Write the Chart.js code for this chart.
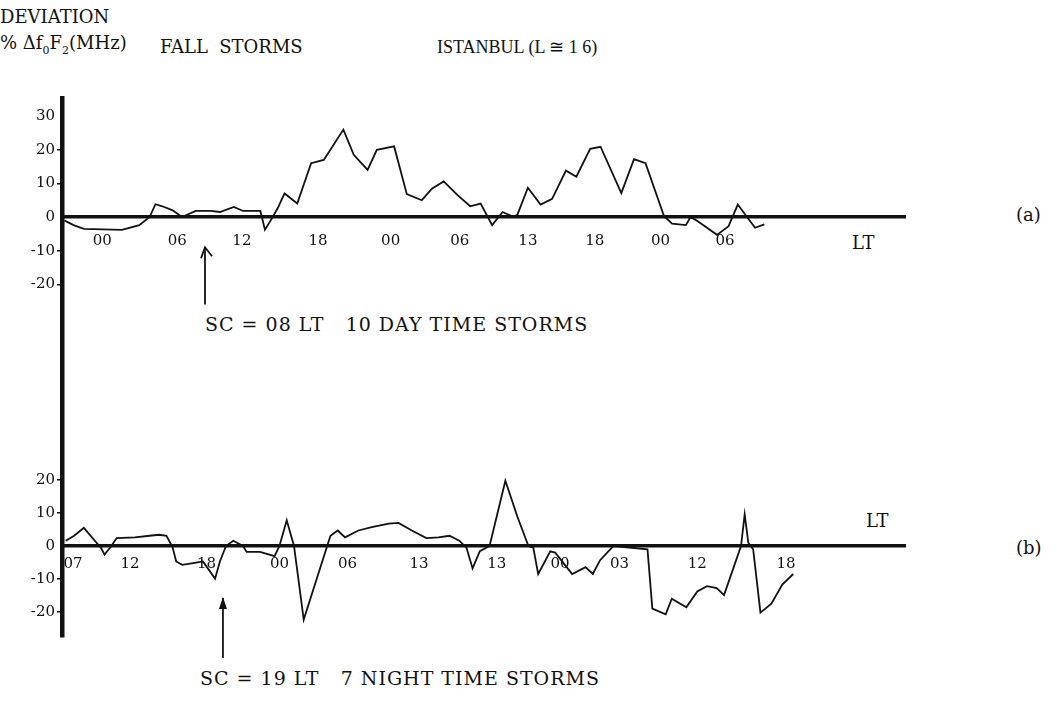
<!DOCTYPE html>
<html>
<head>
<meta charset="utf-8">
<script src="https://cdn.jsdelivr.net/npm/chart.js@4"></script>
<style>
  body { margin:0; background:#fff; width:1057px; height:702px; position:relative; overflow:hidden;
         font-family:"DejaVu Serif","Liberation Serif",serif; color:#111; }
  .t { position:absolute; white-space:pre; font-size:18px; line-height:20px; transform:translateY(-50%); }
  .cap { font-size:19px; letter-spacing:1px; }
  canvas { position:absolute; left:0; }
  sub { font-size:11px; }
</style>
</head>
<body>
<div class="t" style="left:0;top:17px;">DEVIATION</div>
<div class="t" style="left:0;top:47px;">% Δf<sub>0</sub>F<sub>2</sub>(MHz)</div>
<div class="t" style="left:160px;top:47px;">FALL  STORMS</div>
<div class="t" style="left:437px;top:47px;font-family:'Liberation Serif',serif;font-size:18px;">ISTANBUL (L ≅ 1 6)</div>
<div class="t" style="left:852px;top:243px;">LT</div>
<div class="t" style="left:1016px;top:215px;">(a)</div>
<div class="t" style="left:866px;top:521px;">LT</div>
<div class="t" style="left:1016px;top:548px;">(b)</div>
<div class="t cap" style="left:205px;top:324px;">SC = 08 LT   10 DAY TIME STORMS</div>
<div class="t cap" style="left:200px;top:678px;">SC = 19 LT   7 NIGHT TIME STORMS</div>

<canvas id="chart-a" width="1057" height="250" style="top:80px;"></canvas>
<canvas id="chart-b" width="1057" height="372" style="top:330px;"></canvas>

<script>
// (a) 10 day-time storms, SC = 08 LT — hours counted from the first 00 LT
const topHours = [-3.3,-2.5,-1.6,1.7,3.2,4.1,4.6,5.2,6.1,6.9,8.1,9.4,10.2,11.4,12.2,13.7,14.1,14.6,15.2,15.8,
  16.9,18.1,19.2,20.9,21.8,23.0,23.8,25.3,26.4,27.7,28.6,29.6,30.8,31.9,32.8,33.8,34.7,35.7,36.0,36.9,
  38.0,39.0,40.2,41.1,42.3,43.2,45.0,46.1,47.1,48.7,49.4,50.6,51.0,51.6,53.3,54.3,55.1,55.9,56.6,57.4];
const topDev = [-1,-2.4,-3.5,-3.8,-2.4,0,3.8,3.2,2,0,1.8,1.8,1.5,3,1.8,1.8,-3.8,-1,2.6,7,
  4,16,17,26,18.5,14,20,21,6.8,5,8.5,10.6,6.5,3.2,4,-2.4,1.5,0,0.8,8.7,
  3.7,5.4,13.8,12,20.3,20.9,7.1,17.2,16,0.3,-2,-2.4,0,-1.2,-5.3,-2.7,3.7,0,-3.2,-2.2];
const topTickHours  = [0,6.5,12.1,18.7,25,31,36.9,42.7,48.4,54];
const topTickLabels = ['00','06','12','18','00','06','13','18','00','06'];
const topYTicks = [30,20,10,0,-10,-20];
const scTopHour = 8.9;

// (b) 7 night-time storms, SC = 19 LT
const botHours = [6.7,7.4,8.2,9.1,9.6,9.9,10.4,10.9,12.4,13.6,14.4,15.0,15.5,15.8,16.3,17.2,18.0,19.0,19.4,19.9,
  20.5,21.3,21.6,22.7,23.9,24.3,24.9,25.5,26.3,28.5,29.1,29.7,30.8,31.9,33.3,34.1,35.2,36.4,37.4,38.3,
  39.1,39.7,40.2,40.8,41.6,42.9,43.9,44.8,45.2,45.6,46.6,47.0,48.4,49.5,50.1,50.7,51.8,54.6,55.0,56.1,
  56.6,57.8,58.7,59.5,60.3,60.9,61.7,62.3,62.6,62.9,63.3,63.9,64.8,65.7,66.6];
const botDev = [1.6,3.1,5.5,1.6,-0.5,-2.6,-0.3,2.4,2.6,3.1,3.4,3.1,-0.3,-4.7,-5.7,-5.2,-4.7,-9.9,-4.7,0,
  1.6,0,-1.8,-1.8,-3.1,0,7.8,0,-22.3,3.1,4.7,2.6,4.7,5.7,6.8,7,4.7,2.4,2.6,3.1,
  1.6,-0.5,-6.8,-1.6,0,19.8,8.8,0,-0.5,-8.5,-1.6,-2,-8.5,-6.4,-8.5,-4.3,0,-1,-19,-20.7,
  -16,-18.6,-13.8,-12.2,-12.8,-14.9,-6.4,0,9.6,1,-1,-20.2,-17.5,-11.7,-8.5];
const botTickHours  = [7.3,12,18.3,24.3,29.9,35.8,42.2,47.4,52.3,58.7,66];
const botTickLabels = ['07','12','18','00','06','13','13','00','03','12','18'];
const botYTicks = [20,10,0,-10,-20];
const scBotHour = 19.65;

const INK = '#111';
const SERIF = '"DejaVu Serif","Liberation Serif",serif';

/* arrow marking the storm sudden commencement */
const scArrow = {
  id: 'scArrow',
  afterDraw(chart, args, o) {
    const { ctx, scales: { x, y } } = chart;
    const px = x.getPixelForValue(o.hour);
    const y1 = y.getPixelForValue(o.from), y2 = y.getPixelForValue(o.to);
    ctx.save();
    ctx.strokeStyle = INK; ctx.fillStyle = INK; ctx.lineWidth = 1.8;
    ctx.beginPath(); ctx.moveTo(px, y2); ctx.lineTo(px, y1); ctx.stroke();
    ctx.beginPath();
    if (o.filled) {
      ctx.moveTo(px, y1 - 1); ctx.lineTo(px - 4, y1 + 11); ctx.lineTo(px + 4, y1 + 11); ctx.closePath(); ctx.fill();
    } else {
      ctx.moveTo(px - 4, y1 + 11); ctx.lineTo(px, y1); ctx.lineTo(px + 7, y1 + 9); ctx.stroke();
    }
    ctx.restore();
  }
};

function buildPanel(id, hours, dev, tickHours, tickLabels, yTicks, o) {
  return new Chart(document.getElementById(id), {
    type: 'line',
    data: {
      datasets: [{
        data: hours.map((h, i) => ({ x: h, y: dev[i] })),
        borderColor: INK, borderWidth: 1.8, pointRadius: 0, tension: 0, fill: false,
      }],
    },
    options: {
      responsive: false, animation: false, devicePixelRatio: 1,
      layout: { padding: o.padding },
      plugins: { legend: { display: false }, tooltip: { enabled: false },
                 scArrow: { hour: o.sc, from: o.arrowFrom, to: o.arrowTo, filled: o.filled } },
      scales: {
        x: {
          type: 'linear', position: { y: 0 }, min: o.xMin, max: o.xMax,
          afterBuildTicks: s => { s.ticks = tickHours.map(v => ({ value: v })); },
          afterFit: s => { s.paddingLeft = 0; s.paddingRight = 0; },
          grid: { display: false },
          border: { display: true, color: INK, width: 3.5 },
          ticks: { autoSkip: false, maxRotation: 0, padding: o.xPad, color: INK,
                   font: { family: SERIF, size: 15 },
                   callback: (v, i) => tickLabels[i] },
        },
        y: {
          type: 'linear', min: o.yMin, max: o.yMax,
          afterBuildTicks: s => { s.ticks = yTicks.map(v => ({ value: v })); },
          afterFit: s => { s.width = 62; s.paddingTop = 0; s.paddingBottom = 0; },
          grid: { drawOnChartArea: false, drawTicks: true, tickLength: 5, lineWidth: 1.5,
                  color: c => (c.tick && [20, 10, -10, -20].includes(c.tick.value)) ? INK : 'rgba(0,0,0,0)' },
          border: { display: true, color: INK, width: 4.5 },
          ticks: { padding: 2, color: INK, font: { family: SERIF, size: 15 } },
        },
      },
    },
    plugins: [scArrow],
  });
}

buildPanel('chart-a', topHours, topDev, topTickHours, topTickLabels, topYTicks, {
  padding: { top: 18, bottom: 0, left: 0, right: 152 },
  xMin: -3.5, xMax: 69.6, yMin: -33.6, yMax: 35.4, xPad: 7,
  sc: scTopHour, arrowFrom: -9, arrowTo: -26, filled: false,
});

buildPanel('chart-b', botHours, botDev, botTickHours, botTickLabels, botYTicks, {
  padding: { top: 0, bottom: 65, left: 0, right: 152 },
  xMin: 6.4, xMax: 75.8, yMin: -27.6, yMax: 65.5, xPad: 1,
  sc: scBotHour, arrowFrom: -15.8, arrowTo: -34, filled: true,
});
</script>
</body>
</html>
